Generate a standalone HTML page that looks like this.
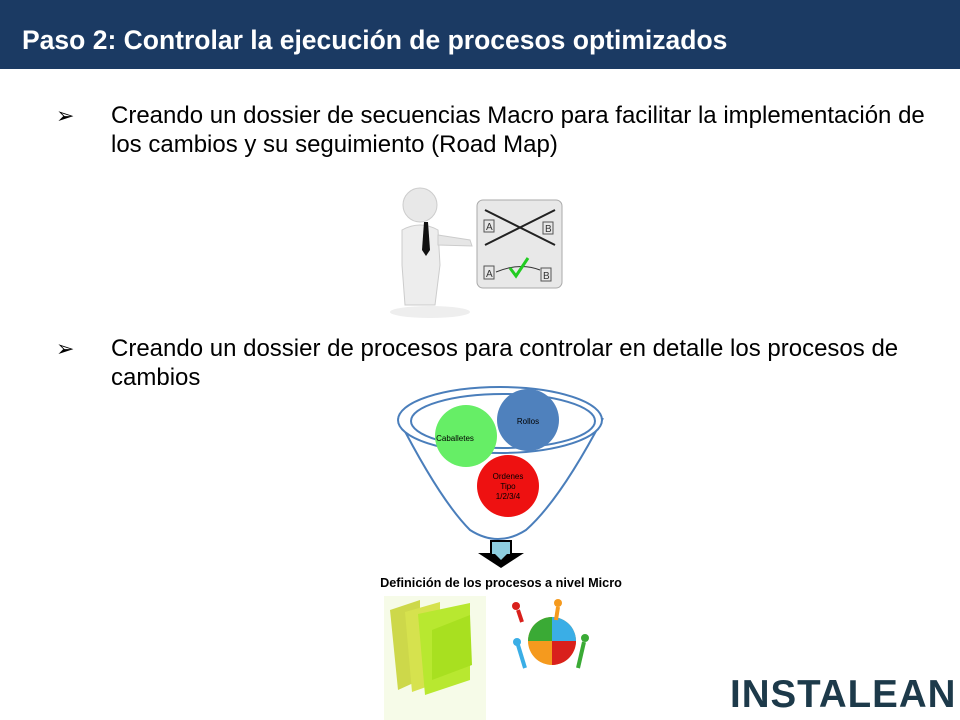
<!DOCTYPE html>
<html><head><meta charset="utf-8"><style>
body{margin:0;width:960px;height:720px;overflow:hidden;background:#fff;font-family:"Liberation Sans",Arial,sans-serif;position:relative}
.hdr{position:absolute;left:0;top:0;width:960px;height:69px;background:#1b3a63}
.hdr div{position:absolute;left:22px;top:25px;color:#fff;font-weight:bold;font-size:26.5px;line-height:30px}
.b{position:absolute;font-size:24px;color:#000;line-height:29px;white-space:nowrap}
.ar{position:absolute;left:56px;font-size:22px;line-height:29px}
</style></head><body>
<div class="hdr"><div>Paso 2: Controlar la ejecución de procesos optimizados</div></div>
<div class="ar" style="top:101px">➢</div>
<div class="b" style="left:111px;top:101px">Creando un dossier de secuencias Macro para facilitar la implementación de<br>los cambios y su seguimiento (Road Map)</div>
<div class="ar" style="top:334px">➢</div>
<div class="b" style="left:111px;top:334px">Creando un dossier de procesos para controlar en detalle los procesos de<br>cambios</div>
<svg width="960" height="720" style="position:absolute;left:0;top:0">
<g>
<ellipse cx="430" cy="312" rx="40" ry="6" fill="#eee"/>
<circle cx="420" cy="205" r="17" fill="#e8e8e8" stroke="#ccc"/>
<path d="M402 230 Q420 220 438 230 L440 265 L435 305 L405 305 L402 265 Z" fill="#ededed" stroke="#ccc"/>
<path d="M438 235 L470 240 L472 246 L438 245Z" fill="#e6e6e6" stroke="#ccc"/>
<path d="M424 222 L428 222 L430 250 L426 256 L422 250Z" fill="#111"/>
<rect x="477" y="200" width="85" height="88" rx="6" fill="#e8e8e8" stroke="#aaa"/>
<rect x="484" y="220" width="10" height="12" fill="none" stroke="#555"/>
<text x="486" y="230" font-size="10" fill="#333">A</text>
<rect x="543" y="222" width="10" height="12" fill="none" stroke="#555"/>
<text x="545" y="232" font-size="10" fill="#333">B</text>
<path d="M485 210 L555 245 M485 245 L555 210" stroke="#222" stroke-width="2"/>
<rect x="484" y="266" width="10" height="13" fill="none" stroke="#555"/>
<text x="486" y="277" font-size="10" fill="#333">A</text>
<rect x="541" y="268" width="10" height="13" fill="none" stroke="#555"/>
<text x="543" y="279" font-size="10" fill="#333">B</text>
<path d="M496 272 Q520 262 540 270" stroke="#333" fill="none"/>
<path d="M510 268 L516 276 L528 258" stroke="#2c2" stroke-width="3" fill="none"/>
</g>
<path d="M398 418 Q440 500 470 530 Q498 548 526 530 Q560 500 603 418" fill="#fff" stroke="#4a7ebb" stroke-width="2"/>
<ellipse cx="500" cy="420" rx="102" ry="33" fill="#fff" stroke="#4a7ebb" stroke-width="2"/>
<ellipse cx="503" cy="421" rx="92" ry="27" fill="none" stroke="#4a7ebb" stroke-width="2"/>
<circle cx="466" cy="436" r="31" fill="#66ee66"/>
<circle cx="528" cy="420" r="31" fill="#4f81bd"/>
<circle cx="508" cy="486" r="31" fill="#ee1111"/>
<g font-size="8" text-anchor="middle" fill="#000">
<text x="455" y="441">Caballetes</text>
<text x="528" y="424">Rollos</text>
<text x="508" y="479">Ordenes</text>
<text x="508" y="489">Tipo</text>
<text x="508" y="499">1/2/3/4</text>
</g>
<rect x="491" y="541" width="20" height="14" fill="#8ecfe0" stroke="#000" stroke-width="2"/>
<path d="M478 553 L491 553 L491 555 L511 555 L511 553 L524 553 L501 568Z" fill="#000"/>
<path d="M494 553 L508 553 L501 560Z" fill="#8ecfe0"/>
<text x="501" y="587" font-size="12.7" font-weight="bold" text-anchor="middle" font-family="Liberation Sans,sans-serif">Definición de los procesos a nivel Micro</text>
<rect x="384" y="596" width="102" height="124" fill="#f6fbe8"/>
<path d="M390 610 L420 600 L420 680 L398 690Z" fill="#cdd84a"/>
<path d="M405 612 L440 602 L440 682 L412 692Z" fill="#d6e24e"/>
<path d="M418 614 L470 603 L470 680 L425 695Z" fill="#b8e830"/>
<path d="M432 630 L470 615 L472 665 L432 680Z" fill="#a8e020"/>
<circle cx="552" cy="641" r="24" fill="#f59a1e"/>
<path d="M552 617 A24 24 0 0 1 576 641 L552 641Z" fill="#3aaee6"/>
<path d="M528 641 A24 24 0 0 1 552 617 L552 641Z" fill="#3aaa35"/>
<path d="M552 641 L576 641 A24 24 0 0 1 552 665Z" fill="#d9201c"/>
<path d="M518 645 L525 668" stroke="#3aaee6" stroke-width="4"/>
<path d="M584 642 L578 668" stroke="#3aaa35" stroke-width="4"/>
<circle cx="517" cy="642" r="4" fill="#3aaee6"/><circle cx="585" cy="638" r="4" fill="#3aaa35"/>
<circle cx="516" cy="606" r="4" fill="#d9201c"/><circle cx="558" cy="603" r="4" fill="#f59a1e"/>
<path d="M518 610 L522 622" stroke="#d9201c" stroke-width="4"/>
<path d="M558 607 L556 620" stroke="#f59a1e" stroke-width="4"/>
</svg>
<div style="position:absolute;left:730px;top:673px;font-size:38.5px;font-weight:bold;color:#1d3a4a;letter-spacing:1px">INSTALEAN</div>
</body></html>
